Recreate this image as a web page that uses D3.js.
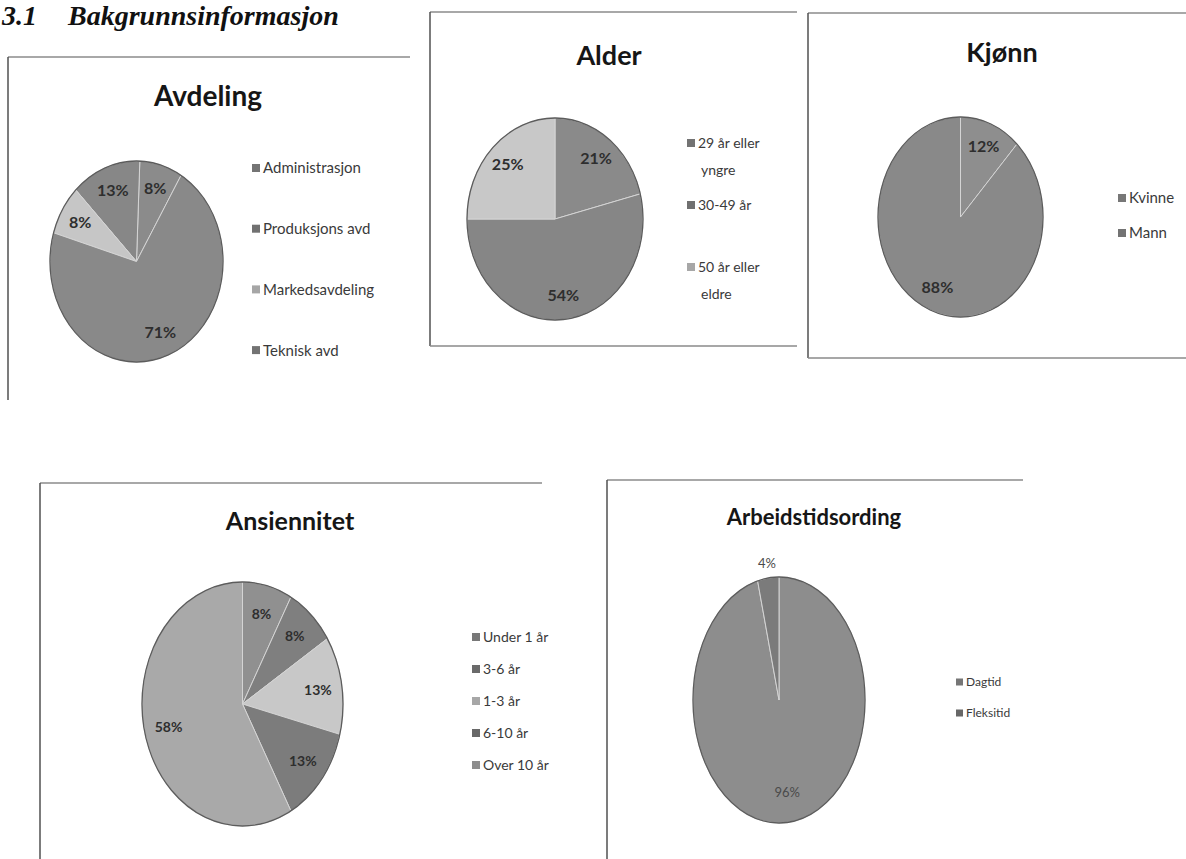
<!DOCTYPE html>
<html>
<head>
<meta charset="utf-8">
<script src="https://cdn.jsdelivr.net/npm/d3@7"></script>
<style>
  html, body { margin: 0; padding: 0; background: #fff; }
  svg { display: block; }
</style>
</head>
<body>
<svg id="chart" width="1186" height="859"></svg>
<script>
// ---- Survey results (percent) ----
const avdelingCategories = ["Administrasjon", "Produksjons avd", "Markedsavdeling", "Teknisk avd"];
const avdelingValues = [8, 13, 8, 71];

const alderCategories = ["29 år eller yngre", "30-49 år", "50 år eller eldre"];
const alderValues = [21, 54, 25];

const kjonnCategories = ["Kvinne", "Mann"];
const kjonnValues = [12, 88];

const ansiennitetCategories = ["Under 1 år", "3-6 år", "1-3 år", "6-10 år", "Over 10 år"];
const ansiennitetValues = [8, 8, 13, 13, 58];

const arbeidstidCategories = ["Dagtid", "Fleksitid"];
const arbeidstidValues = [96, 4];

// ---- Layout and styling of each pie panel ----
const FONT = "Lato, 'Open Sans', 'DejaVu Sans', sans-serif";

const panels = [
  {
    title: "Avdeling", categories: avdelingCategories, values: avdelingValues,
    colors: ["#8b8b8b", "#878787", "#c6c6c6", "#898989"],
    lines: [[8, 57, 410, 57, "top"], [8, 57, 8, 400, "side"]],
    titleX: 208, titleY: 106, titleSize: 28,
    cx: 136.5, cy: 261.5, rx: 86.5, ry: 100.5, startDeg: 31, dir: -1,
    labelSize: 16, labelWeight: 700,
    legend: { x: 252, y: 168, step: 60.7, size: 15, wrap: 200 }
  },
  {
    title: "Alder", categories: alderCategories, values: alderValues,
    colors: ["#8a8a8a", "#868686", "#c8c8c8"],
    lines: [[430, 12, 797, 12, "top"], [430, 12, 430, 346, "side"], [430, 346, 797, 346, "bottom"]],
    titleX: 609, titleY: 65, titleSize: 27,
    cx: 555, cy: 219, rx: 88, ry: 101, startDeg: 0, dir: 1,
    labelSize: 16, labelWeight: 700,
    legend: { x: 687, y: 143, step: 62, size: 14, wrap: 80, lineHeight: 27 }
  },
  {
    title: "Kjønn", categories: kjonnCategories, values: kjonnValues,
    colors: ["#8e8e8e", "#898989"],
    lines: [[808, 13, 1186, 13, "top"], [808, 13, 808, 358, "side"], [808, 358, 1186, 358, "bottom"]],
    titleX: 1002, titleY: 62, titleSize: 27,
    cx: 960.5, cy: 217, rx: 82.5, ry: 100, startDeg: 0, dir: 1,
    labelSize: 16, labelWeight: 700,
    legend: { x: 1118, y: 198, step: 35, size: 15, wrap: 200 }
  },
  {
    title: "Ansiennitet", categories: ansiennitetCategories, values: ansiennitetValues,
    colors: ["#909090", "#7f7f7f", "#c8c8c8", "#7c7c7c", "#a9a9a9"],
    lines: [[40, 483, 542, 483, "top"], [40, 483, 40, 859, "side"]],
    titleX: 290, titleY: 530, titleSize: 25,
    cx: 242.5, cy: 704, rx: 100.5, ry: 122, startDeg: 0, dir: 1,
    labelSize: 14, labelWeight: 700,
    legend: { x: 472, y: 637, step: 32, size: 14, wrap: 200 }
  },
  {
    title: "Arbeidstidsording", categories: arbeidstidCategories, values: arbeidstidValues,
    colors: ["#8d8d8d", "#7b7b7b"],
    lines: [[607, 480, 1023, 480, "top"], [607, 480, 607, 859, "side"]],
    titleX: 814, titleY: 525, titleSize: 22,
    cx: 779, cy: 700, rx: 86, ry: 123, startDeg: 0, dir: 1,
    labelSize: 13, labelWeight: 400,
    legend: { x: 956, y: 682, step: 31, size: 12, wrap: 200 }
  }
];

const svg = d3.select("#chart");

// Section heading
const headingFont = "'Liberation Serif', 'DejaVu Serif', serif";
svg.append("text")
  .attr("x", 2).attr("y", 25)
  .attr("font-family", headingFont)
  .attr("font-style", "italic").attr("font-weight", 700)
  .attr("font-size", 28).attr("fill", "#111")
  .text("3.1");
svg.append("text")
  .attr("x", 68).attr("y", 25)
  .attr("font-family", headingFont)
  .attr("font-style", "italic").attr("font-weight", 700)
  .attr("font-size", 28).attr("fill", "#111")
  .text("Bakgrunnsinformasjon");

const R = 100;
const sliceArc = d3.arc().innerRadius(0).outerRadius(R);
const rad = deg => deg * Math.PI / 180;

function wrapText(textSel, width, lineHeight) {
  const words = textSel.text().split(/\s+/);
  const x = textSel.attr("x");
  const y = textSel.attr("y");
  textSel.text(null);
  let line = [];
  let lineNo = 0;
  let tspan = textSel.append("tspan").attr("x", x).attr("y", y);
  words.forEach(w => {
    line.push(w);
    tspan.text(line.join(" "));
    if (tspan.node().getComputedTextLength() > width && line.length > 1) {
      line.pop();
      tspan.text(line.join(" "));
      line = [w];
      lineNo += 1;
      tspan = textSel.append("tspan").attr("x", +x + 3).attr("y", +y + lineNo * lineHeight).text(w);
    }
  });
}

panels.forEach(p => {
  const g = svg.append("g");

  // panel border segments
  p.lines.forEach(([x1, y1, x2, y2, kind]) => {
    g.append("line")
      .attr("x1", x1).attr("y1", y1).attr("x2", x2).attr("y2", y2)
      .attr("stroke", kind === "side" ? "#505050" : (kind === "top" ? "#a8a8a8" : "#8a8a8a"))
      .attr("stroke-width", kind === "top" ? 2 : 1.5);
  });

  // title
  g.append("text")
    .attr("x", p.titleX).attr("y", p.titleY)
    .attr("text-anchor", "middle")
    .attr("font-family", FONT).attr("font-weight", 700)
    .attr("font-size", p.titleSize).attr("fill", "#161616")
    .text(p.title);

  // slices: unit pie stretched into an ellipse
  const pie = d3.pie().sort(null).value(d => d)
    .startAngle(rad(p.startDeg))
    .endAngle(rad(p.startDeg + p.dir * 360));
  const arcs = pie(p.values);

  const pg = g.append("g")
    .attr("transform", `translate(${p.cx},${p.cy}) scale(${p.rx / R},${p.ry / R})`);
  pg.selectAll("path")
    .data(arcs)
    .join("path")
    .attr("d", sliceArc)
    .attr("fill", (d, i) => p.colors[i])
    .attr("stroke", "#d4d4d4")
    .attr("stroke-width", 1)
    .attr("vector-effect", "non-scaling-stroke");
  pg.append("circle")
    .attr("r", R)
    .attr("fill", "none")
    .attr("stroke", "#5c5c5c")
    .attr("stroke-width", 1.3)
    .attr("vector-effect", "non-scaling-stroke");

  // percentage labels
  arcs.forEach(d => {
    const f = d.value < 5 ? 1.12 : 0.76;
    const [lx, ly] = d3.arc().innerRadius(f * R).outerRadius(f * R).centroid(d);
    g.append("text")
      .attr("x", p.cx + lx * p.rx / R)
      .attr("y", p.cy + ly * p.ry / R)
      .attr("dy", "0.36em")
      .attr("text-anchor", "middle")
      .attr("font-family", FONT).attr("font-weight", p.labelWeight)
      .attr("font-size", p.labelSize)
      .attr("fill", p.labelWeight === 700 ? "#2e2e2e" : "#4a4a4a")
      .text(d.value + "%");
  });

  // legend
  const L = p.legend;
  p.categories.forEach((cat, i) => {
    const y = L.y + i * L.step;
    const ms = Math.round(L.size * 0.55);
    g.append("rect")
      .attr("x", L.x).attr("y", y - ms / 2)
      .attr("width", ms).attr("height", ms)
      .attr("fill", d3.color(p.colors[i]).darker(0.5));
    const t = g.append("text")
      .attr("x", L.x + ms + 3).attr("y", y)
      .attr("dy", "0.36em")
      .attr("font-family", FONT)
      .attr("font-size", L.size).attr("fill", "#3a3a3a")
      .text(cat);
    wrapText(t, L.wrap, L.lineHeight || L.size * 1.6);
    t.selectAll("tspan").attr("dy", "0.36em");
  });
});
</script>
</body>
</html>
